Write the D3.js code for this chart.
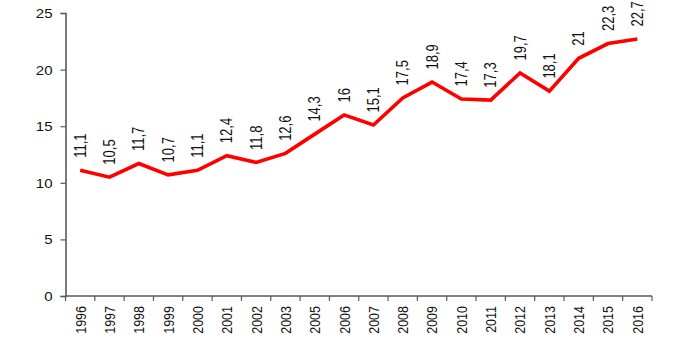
<!DOCTYPE html>
<html><head><meta charset="utf-8">
<script src="https://cdn.jsdelivr.net/npm/d3@7"></script>
<style>body{margin:0;background:#fff}svg{display:block}text{font-family:"Liberation Sans",Arial,sans-serif;fill:#111}</style>
</head><body><svg id="c" width="700" height="340"></svg>
<script>
const years = ["1996","1997","1998","1999","2000","2001","2002","2003","2005","2006","2007","2008","2009","2010","2011","2012","2013","2014","2015","2016"];
const values = [11.1,10.5,11.7,10.7,11.1,12.4,11.8,12.6,14.3,16,15.1,17.5,18.9,17.4,17.3,19.7,18.1,21,22.3,22.7];
const labels = ["11,1","10,5","11,7","10,7","11,1","12,4","11,8","12,6","14,3","16","15,1","17,5","18,9","17,4","17,3","19,7","18,1","21","22,3","22,7"];
const yTicks = [0,5,10,15,20,25];

const svg = d3.select("#c");
const L = 65.5, R = 652, T = 13, B = 296;
const SX = 1.2, FS = 12.5, FSD = 13;
const x = d3.scaleBand().domain(years).range([L, R]).padding(0);
const y = d3.scaleLinear().domain([0, 25]).range([B, T]);
const axisCol = "#595959";

// y axis
const ya = svg.append("g").attr("transform", `translate(${L},0)`)
  .call(d3.axisLeft(y).tickValues(yTicks).tickSize(5).tickPadding(0).tickFormat(d3.format("d")));
ya.select(".domain").attr("stroke", axisCol).attr("stroke-width", 1.6);
ya.selectAll(".tick line").attr("stroke", axisCol).attr("stroke-width", 1.2);
ya.selectAll(".tick text").remove();
ya.selectAll(".tick").append("text")
  .attr("text-anchor", "end").attr("dy", "0.36em")
  .attr("transform", `translate(-13,0) scale(${SX},1)`)
  .style("font-size", FS + "px").text(d => d);

// x axis
const xa = svg.append("g").attr("transform", `translate(0,${B})`);
xa.append("line").attr("x1", L).attr("x2", R).attr("stroke", axisCol).attr("stroke-width", 1.6);
const bounds = years.map(d => x(d)).concat([R]);
xa.selectAll("line.tk").data(bounds).enter().append("line").attr("class", "tk")
  .attr("x1", d => d).attr("x2", d => d).attr("y1", 0).attr("y2", 5)
  .attr("stroke", axisCol).attr("stroke-width", 1.2);
xa.selectAll("text").data(years).enter().append("text")
  .attr("text-anchor", "end").attr("dy", "0.36em")
  .attr("transform", d => `translate(${x(d) + x.bandwidth() / 2},10) rotate(-90) scale(1,${SX})`)
  .style("font-size", FS + "px").text(d => d);

// line
const cx = i => x(years[i]) + x.bandwidth() / 2;
svg.append("path").datum(values)
  .attr("fill", "none").attr("stroke", "#ff0000").attr("stroke-width", 3.6)
  .attr("stroke-linejoin", "miter")
  .attr("d", d3.line().x((d, i) => cx(i)).y(d => y(d)));

// data labels
svg.selectAll("text.dl").data(values).enter().append("text").attr("class", "dl")
  .attr("text-anchor", "start").attr("dy", "0.36em")
  .attr("transform", (d, i) => `translate(${cx(i)},${y(d) - 12.5}) rotate(-90) scale(1,${SX})`)
  .style("font-size", FSD + "px").text((d, i) => labels[i]);
</script></body></html>
